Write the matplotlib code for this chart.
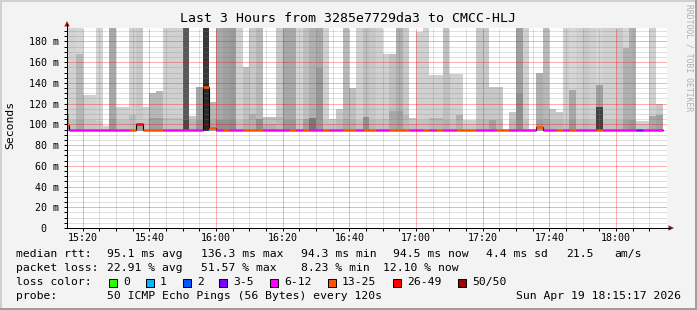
import numpy as np
import matplotlib
matplotlib.use("Agg")
import matplotlib.pyplot as plt
from matplotlib.patches import Rectangle, Polygon
from matplotlib.lines import Line2D

plt.rcParams['font.family'] = ['DejaVu Sans Mono']

W, H = 697, 310

title = "Last 3 Hours from 3285e7729da3 to CMCC-HLJ"

# 2 minute bins, left edge in minutes after 15:00
bin_start = np.arange(14, 194, 2)

# top of the smoke (max ping, clipped by the graph)
smoke_max = [200, 200, 200, 128, 128, 200, 98, 200, 117, 117,
             200, 200, 117, 130, 132, 200, 200, 200, 200, 108,
             136, 200, 122, 200, 200, 200, 200, 155, 200, 200,
             107, 107, 200, 200, 200, 200, 200, 200, 200, 200,
             105, 115, 200, 135, 200, 200, 200, 200, 168, 168,
             200, 200, 106, 189, 200, 148, 148, 200, 149, 149,
             104, 104, 200, 200, 136, 136, 96, 112, 200, 200,
             95.5, 150, 200, 115, 112, 200, 200, 200, 200, 200,
             200, 200, 200, 200, 200, 200, 103, 103, 200, 120]
# upper edge of the main smoke body
body_top = [200, 200, 168, 128, 128, 200, 98, 200, 117, 117,
            200, 200, 117, 130, 132, 200, 200, 200, 200, 108,
            136, 200, 122, 200, 200, 200, 200, 155, 200, 200,
            107, 107, 200, 200, 200, 200, 200, 200, 200, 200,
            105, 115, 200, 135, 200, 200, 200, 200, 168, 168,
            200, 200, 106, 189, 200, 148, 148, 200, 149, 149,
            104, 104, 200, 200, 136, 136, 96, 112, 200, 200,
            95.5, 150, 200, 115, 112, 200, 133, 200, 200, 200,
            138, 200, 200, 200, 174, 200, 103, 103, 200, 120]
body_gray = [208, 210, 184, 208, 208, 212, 208, 168, 208, 208,
             208, 200, 208, 184, 184, 208, 208, 208, 88, 200,
             168, 56, 184, 168, 160, 156, 208, 192, 200, 184,
             192, 192, 200, 168, 168, 212, 192, 176, 168, 208,
             200, 200, 184, 192, 208, 192, 200, 208, 208, 192,
             176, 200, 200, 208, 208, 208, 208, 192, 208, 208,
             208, 208, 200, 200, 200, 200, 208, 200, 160, 208,
             208, 176, 184, 200, 200, 208, 168, 208, 200, 208,
             160, 208, 208, 200, 176, 176, 208, 208, 208, 200]
# denser smoke just above the median
core_top = [110, 104, 104, 104, 104, 103, 98, 105, 104, 104,
            109, 100.5, 104, 106, 106, 106, 106, 106, 104, 104,
            104, 140, 104, 104, 104, 104, 104, 104, 110, 105,
            100, 100, 107, 104, 104, 105, 105, 106, 154, 104,
            100, 104, 105, 104, 104, 107, 104, 104, 105, 113,
            113, 109, 100, 104, 104, 106, 106, 104, 104, 109,
            100, 100, 104, 104, 104, 104, 96, 104, 130, 104,
            95.5, 104, 105, 104, 104, 104, 104, 104, 104, 104,
            117, 104, 104, 104, 104, 104, 100, 100, 108, 109]
core_gray = [140, 192, 168, 196, 196, 200, 208, 152, 192, 192,
             188, 160, 196, 160, 160, 192, 192, 192, 72, 184,
             152, 40, 168, 144, 144, 140, 192, 176, 176, 144,
             176, 176, 184, 152, 152, 196, 160, 120, 152, 192,
             192, 184, 168, 176, 192, 144, 184, 192, 192, 168,
             160, 184, 192, 192, 192, 184, 184, 176, 192, 176,
             200, 200, 184, 184, 160, 184, 208, 184, 144, 192,
             208, 160, 168, 184, 184, 192, 152, 192, 184, 192,
             64, 192, 192, 184, 160, 152, 200, 200, 168, 160]

median_rtt = [99.5, 95, 95, 95, 95, 95, 95, 95, 95, 95,
              95, 100.5, 95, 95, 95, 95, 95, 95, 95, 95,
              95, 136.3, 96.5, 95, 95, 95, 95, 95, 95, 95,
              95, 95, 95, 95, 95, 95, 95, 95, 95, 95,
              95, 95, 95, 95, 95, 95, 95, 95, 95, 95,
              95, 95, 95, 95, 95, 95, 95, 95, 95, 95,
              95, 95, 95, 95, 95, 95, 95, 95, 95, 95,
              95, 97, 95, 95, 95, 95, 95, 95, 95, 95,
              95, 95, 95, 95, 95, 95, 94.8, 95, 95, 94.5]
# index into loss_labels for each bin
loss_idx = [5, 4, 4, 4, 4, 4, 4, 4, 4, 4,
            5, 6, 5, 5, 5, 4, 4, 4, 4, 4,
            4, 5, 5, 4, 5, 4, 4, 5, 5, 5,
            4, 4, 4, 4, 5, 4, 5, 4, 4, 5,
            4, 4, 5, 5, 4, 5, 5, 4, 4, 5,
            5, 5, 4, 4, 5, 4, 5, 4, 4, 5,
            5, 5, 4, 4, 4, 5, 5, 4, 4, 4,
            4, 5, 4, 4, 5, 4, 5, 4, 4, 4,
            5, 4, 4, 4, 4, 4, 3, 4, 4, 4]

loss_labels = ["0", "1", "2", "3-5", "6-12", "13-25", "26-49", "50/50"]
loss_colors = ["#26ff00", "#00b8ff", "#0059ff", "#7e00ff",
               "#ff00ff", "#ff5500", "#ff0000", "#a00000"]

x_major = [20, 40, 60, 80, 100, 120, 140, 160, 180]
x_labels = ["15:20", "15:40", "16:00", "16:20", "16:40",
            "17:00", "17:20", "17:40", "18:00"]
y_major = [0, 20, 40, 60, 80, 100, 120, 140, 160, 180]
y_labels = ["0  ", "20 m", "40 m", "60 m", "80 m", "100 m",
            "120 m", "140 m", "160 m", "180 m"]

stats_rtt = ["median rtt:", "95.1 ms avg", "136.3 ms max", "94.3 ms min",
             "94.5 ms now", "4.4 ms sd", "21.5", "am/s"]
stats_loss = ["packet loss:", "22.91 % avg", "51.57 % max", "8.23 % min",
              "12.10 % now"]
probe_text = "50 ICMP Echo Pings (56 Bytes) every 120s"
stamp = "Sun Apr 19 18:15:17 2026"

t0, t1 = 15.28, 195.28
ymax = 193
floor = 94.0
fs = 8.2


def fx(x):
    return x / W


def fy(y):
    return 1 - y / H


def gray(v):
    return '#%02x%02x%02x' % (v, v, v)


fig = plt.figure(figsize=(W / 100, H / 100), dpi=100, facecolor='#f3f3f3')
ax = fig.add_axes([fx(67), fy(228), 600 / W, 200 / H])
ax.set_facecolor('white')

bs = np.array(bin_start)
hi = np.array(smoke_max)
bt = np.minimum(np.array(body_top), hi)
ct = np.minimum(np.array(core_top), bt)

# smoke, lightest layer first
ax.bar(bs, hi - floor, width=2, bottom=floor, align='edge', color='#d6d6d6',
       linewidth=0, zorder=1)
ax.bar(bs, bt - floor, width=2, bottom=floor, align='edge',
       color=[gray(g) for g in body_gray], linewidth=0, zorder=1.1)
ax.bar(bs, ct - floor, width=2, bottom=floor, align='edge',
       color=[gray(g) for g in core_gray], linewidth=0, zorder=1.2)

# median: thin black step, then loss coloured segments
ax.step(np.append(bs, bs[-1] + 2), np.append(median_rtt, median_rtt[-1]),
        where='post', color='black', lw=0.8, zorder=3)
ax.hlines(median_rtt, bs, bs + 2, colors=[loss_colors[i] for i in loss_idx],
          linewidth=1.8, zorder=4)

ax.set_xlim(t0, t1)
ax.set_ylim(0, ymax)
ax.set_xticks(x_major, x_labels)
ax.set_xticks(np.arange(20, 195, 5), minor=True)
ax.set_yticks(y_major, y_labels)
ax.set_yticks(np.arange(0, 195, 5), minor=True)
ax.set_axisbelow(False)
ax.grid(which='major', color='#ff0000', alpha=0.32, ls=(0, (1, 1)), lw=0.72,
        antialiased=False)
ax.grid(which='minor', color='#808080', alpha=0.25, ls=(0, (1, 1)), lw=0.72,
        antialiased=False)
ax.tick_params(which='both', labelsize=7.2, length=2.2, width=0.72,
               color='black', direction='out')
ax.tick_params(axis='x', pad=1.5)
ax.tick_params(axis='y', pad=3.6)
for s in ['top', 'right']:
    ax.spines[s].set_visible(False)
for s in ['left', 'bottom']:
    ax.spines[s].set_linewidth(0.72)
    ax.spines[s].set_zorder(5)

# axis extensions and arrows
fig.add_artist(Line2D([fx(67), fx(67)], [fy(28), fy(24)], color='black', lw=0.72))
fig.add_artist(Line2D([fx(667), fx(670)], [fy(228), fy(228)], color='black', lw=0.72))
fig.add_artist(Polygon([(fx(64.3), fy(26.5)), (fx(69.7), fy(26.5)), (fx(67), fy(21))],
                       closed=True, color='#a01818', lw=0))
fig.add_artist(Polygon([(fx(668.5), fy(225.3)), (fx(668.5), fy(230.7)), (fx(674), fy(228))],
                       closed=True, color='#a01818', lw=0))

fig.text(fx(348), fy(19), title, ha='center', va='center', fontsize=9.5)
fig.text(fx(10), fy(125), 'Seconds', rotation=90, ha='center', va='center',
         fontsize=fs)
fig.text(fx(689), fy(4), 'RRDTOOL / TOBI OETIKER', rotation=270, ha='center',
         va='top', fontsize=5.8, color='#b0b0b0')

# legend rows
row_y = [254.3, 268.3, 282.3, 296.3]
rtt_x = [16, 107, 201, 301, 393, 486, 566, 614]
for s, x in zip(stats_rtt, rtt_x):
    fig.text(fx(x), fy(row_y[0]), s, ha='left', va='center', fontsize=fs)
loss_x = [16, 107, 201, 301, 383]
for s, x in zip(stats_loss, loss_x):
    fig.text(fx(x), fy(row_y[1]), s, ha='left', va='center', fontsize=fs)
fig.text(fx(16), fy(row_y[2]), "loss color:", ha='left', va='center', fontsize=fs)
box_x = [109, 146, 183, 219, 270, 328, 393, 458]
for lab, col, x in zip(loss_labels, loss_colors, box_x):
    fig.add_artist(Rectangle((fx(x), fy(286.5)), 8 / W, 8 / H, facecolor=col,
                             edgecolor='black', lw=0.72))
    fig.text(fx(x + 14), fy(row_y[2]), lab, ha='left', va='center', fontsize=fs)
fig.text(fx(16), fy(row_y[3]), "probe:", ha='left', va='center', fontsize=fs)
fig.text(fx(107), fy(row_y[3]), probe_text, ha='left', va='center', fontsize=fs)
fig.text(fx(681), fy(row_y[3]), stamp, ha='right', va='center', fontsize=fs)

# image frame
fig.add_artist(Rectangle((0, 1 - 1.5 / H), 1, 1.5 / H, facecolor='#d0d0d0', lw=0))
fig.add_artist(Rectangle((0, 0), 1.5 / W, 1, facecolor='#d0d0d0', lw=0))
fig.add_artist(Rectangle((1 - 2 / W, 0), 2 / W, 1, facecolor='#9e9e9e', lw=0))
fig.add_artist(Rectangle((0, 0), 1, 2 / H, facecolor='#9e9e9e', lw=0))

fig.savefig('out.png', dpi=100, facecolor=fig.get_facecolor())
